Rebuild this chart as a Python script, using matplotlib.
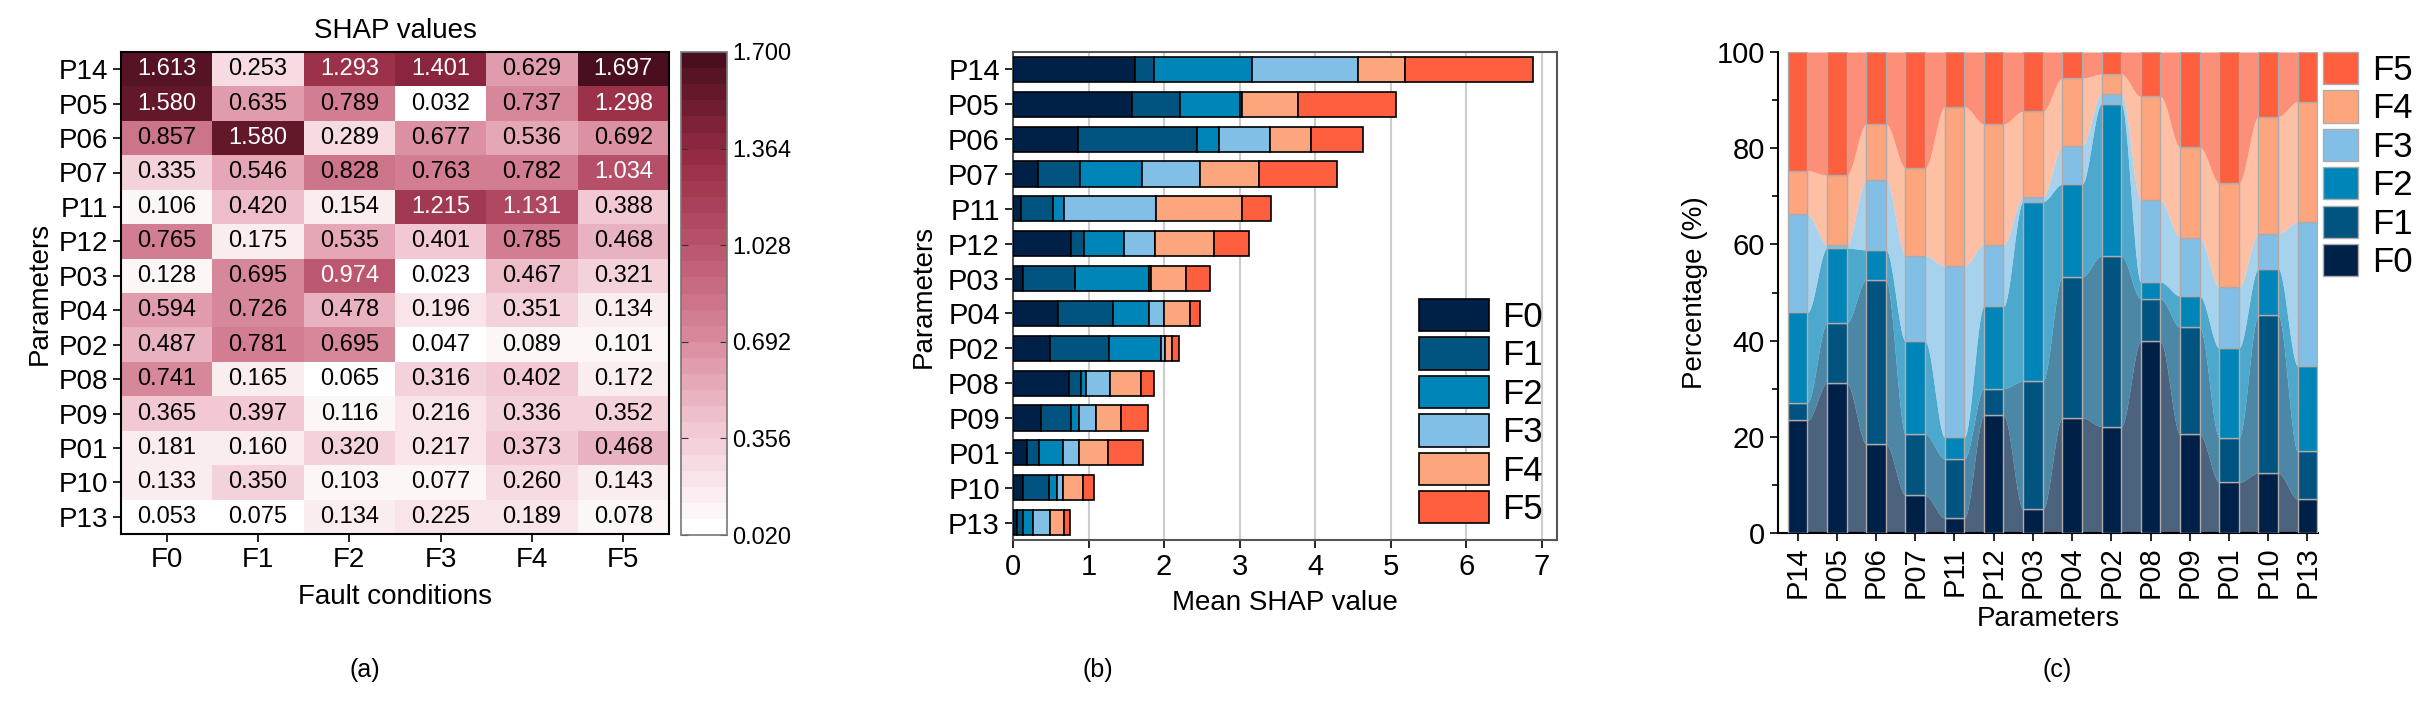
import matplotlib
matplotlib.use("Agg")
import matplotlib.pyplot as plt
import numpy as np
from matplotlib.colors import LinearSegmentedColormap

plt.rcParams['font.family'] = ['Liberation Sans', 'DejaVu Sans']

# SHAP values per parameter (rows) and fault condition (columns)
params = ["P14", "P05", "P06", "P07", "P11", "P12", "P03",
          "P04", "P02", "P08", "P09", "P01", "P10", "P13"]
faults = ["F0", "F1", "F2", "F3", "F4", "F5"]
shap_vals = np.array([
    [1.613, 0.253, 1.293, 1.401, 0.629, 1.697],
    [1.580, 0.635, 0.789, 0.032, 0.737, 1.298],
    [0.857, 1.580, 0.289, 0.677, 0.536, 0.692],
    [0.335, 0.546, 0.828, 0.763, 0.782, 1.034],
    [0.106, 0.420, 0.154, 1.215, 1.131, 0.388],
    [0.765, 0.175, 0.535, 0.401, 0.785, 0.468],
    [0.128, 0.695, 0.974, 0.023, 0.467, 0.321],
    [0.594, 0.726, 0.478, 0.196, 0.351, 0.134],
    [0.487, 0.781, 0.695, 0.047, 0.089, 0.101],
    [0.741, 0.165, 0.065, 0.316, 0.402, 0.172],
    [0.365, 0.397, 0.116, 0.216, 0.336, 0.352],
    [0.181, 0.160, 0.320, 0.217, 0.373, 0.468],
    [0.133, 0.350, 0.103, 0.077, 0.260, 0.143],
    [0.053, 0.075, 0.134, 0.225, 0.189, 0.078],
])
cbar_ticks = [0.020, 0.356, 0.692, 1.028, 1.364, 1.700]

fault_colors = ['#002147', '#00547f', '#0085b8', '#82bfe6', '#fda67e', '#fd5f3f']

fig = plt.figure(figsize=(24.24, 7.05), dpi=100)
W, H = 2424, 705

def axrect(x0, y0, x1, y1):
    return [x0 / W, 1 - y1 / H, (x1 - x0) / W, (y1 - y0) / H]

# ---------------- (a) heatmap ----------------
cmap = LinearSegmentedColormap.from_list("shap", [
    (0.0, '#ffffff'), (0.2, '#f3cbd5'), (0.4, '#da8b9e'),
    (0.6, '#ba546d'), (0.8, '#942a42'), (1.0, '#4a0f1e')]).resampled(30)

ax1 = fig.add_axes(axrect(121, 52, 669, 534))
im = ax1.imshow(shap_vals, cmap=cmap, vmin=0.02, vmax=1.7, aspect='auto')
for i in range(len(params)):
    for j in range(len(faults)):
        v = shap_vals[i, j]
        ax1.text(j, i, f"{v:.3f}", ha='center', va='center', fontsize=17,
                 color='white' if v >= 0.9 else 'black')
ax1.set_xticks(range(len(faults)))
ax1.set_xticklabels(faults)
ax1.set_yticks(range(len(params)))
ax1.set_yticklabels(params)
ax1.tick_params(labelsize=20, length=6, width=1.2)
ax1.set_xlabel("Fault conditions", fontsize=20, labelpad=8)
ax1.set_ylabel("Parameters", fontsize=20, labelpad=4)
ax1.set_title("SHAP values", fontsize=20, pad=10)
for s in ax1.spines.values():
    s.set_linewidth(1.5)

cax = fig.add_axes(axrect(681, 52, 727, 535))
cb = fig.colorbar(im, cax=cax, ticks=cbar_ticks)
cb.ax.set_yticklabels([f"{t:.3f}" for t in cbar_ticks])
cb.outline.set_edgecolor('#777777')
cb.outline.set_linewidth(1.2)
cax.tick_params(direction='in', left=True, right=True, length=5, labelsize=17, color='#333333')

fig.text(365 / W, 1 - 670 / H, "(a)", ha='center', va='center', fontsize=18)

# ---------------- (b) stacked horizontal bars ----------------
ax2 = fig.add_axes(axrect(1013, 52, 1557, 540))
ypos = np.arange(len(params))
left = np.zeros(len(params))
for k, f in enumerate(faults):
    ax2.barh(ypos, shap_vals[:, k], left=left, height=0.72, color=fault_colors[k],
             edgecolor='black', linewidth=1.2, label=f, zorder=3)
    left += shap_vals[:, k]
ax2.set_ylim(len(params) - 0.5, -0.5)
ax2.set_xlim(0, 7.2)
ax2.set_xticks(range(8))
ax2.set_yticks(ypos)
ax2.set_yticklabels(params)
ax2.tick_params(labelsize=21, length=6, width=1.2)
ax2.xaxis.grid(True, color='#cccccc', linewidth=1.5)
ax2.set_axisbelow(True)
ax2.set_xlabel("Mean SHAP value", fontsize=20, labelpad=6)
ax2.set_ylabel("Parameters", fontsize=20, labelpad=8)
for s in ax2.spines.values():
    s.set_color('#555555')
    s.set_linewidth(1.5)
ax2.legend(loc='lower right', frameon=False, fontsize=25, handlelength=2.0,
           handleheight=1.05, labelspacing=0.1, handletextpad=0.4,
           borderaxespad=0.3, borderpad=0.1)

fig.text(1098 / W, 1 - 670 / H, "(b)", ha='center', va='center', fontsize=18)

# ---------------- (c) percentage stacked columns ----------------
ax3 = fig.add_axes(axrect(1778, 52, 2318, 533))
pct = shap_vals / shap_vals.sum(axis=1, keepdims=True) * 100
cum = np.hstack([np.zeros((len(params), 1)), np.cumsum(pct, axis=1)])
bw = 0.5
xpos = np.arange(len(params))
handles = []
for k, f in enumerate(faults):
    h = ax3.bar(xpos, pct[:, k], bottom=cum[:, k], width=bw, color=fault_colors[k],
                edgecolor='#b0aaaa', linewidth=1.0, label=f, zorder=3)
    handles.append(h)
    # smooth connecting bands between neighbouring columns
    for i in range(len(params) - 1):
        xs = np.linspace(i + bw / 2, i + 1 - bw / 2, 40)
        t = (xs - xs[0]) / (xs[-1] - xs[0])
        s = 3 * t ** 2 - 2 * t ** 3
        lo = cum[i, k] + (cum[i + 1, k] - cum[i, k]) * s
        hi = cum[i, k + 1] + (cum[i + 1, k + 1] - cum[i, k + 1]) * s
        ax3.fill_between(xs, lo, hi, color=fault_colors[k], alpha=0.7, linewidth=0, zorder=2)
ax3.set_xlim(-0.5, len(params) - 1 + bw / 2 + 0.02)
ax3.set_ylim(0, 100)
ax3.set_xticks(xpos)
ax3.set_xticklabels(params, rotation=90)
ax3.set_yticks(range(0, 101, 20))
ax3.set_yticks(range(10, 100, 20), minor=True)
ax3.tick_params(labelsize=21, length=6, width=1.2)
ax3.tick_params(which='minor', length=4, width=1.2)
ax3.spines['top'].set_visible(False)
ax3.spines['right'].set_visible(False)
for s in ['left', 'bottom']:
    ax3.spines[s].set_linewidth(1.5)
ax3.set_xlabel("Parameters", fontsize=20, labelpad=6)
ax3.set_ylabel("Percentage (%)", fontsize=20, labelpad=6)
ax3.legend(handles[::-1], faults[::-1], loc='upper left', bbox_to_anchor=(1.01, 1.0),
           frameon=False, fontsize=25, handlelength=1.0, handleheight=1.05,
           labelspacing=0.1, handletextpad=0.4, borderaxespad=0.0, borderpad=0.0)

fig.text(2057 / W, 1 - 670 / H, "(c)", ha='center', va='center', fontsize=18)

fig.savefig("out.png", dpi=100)
